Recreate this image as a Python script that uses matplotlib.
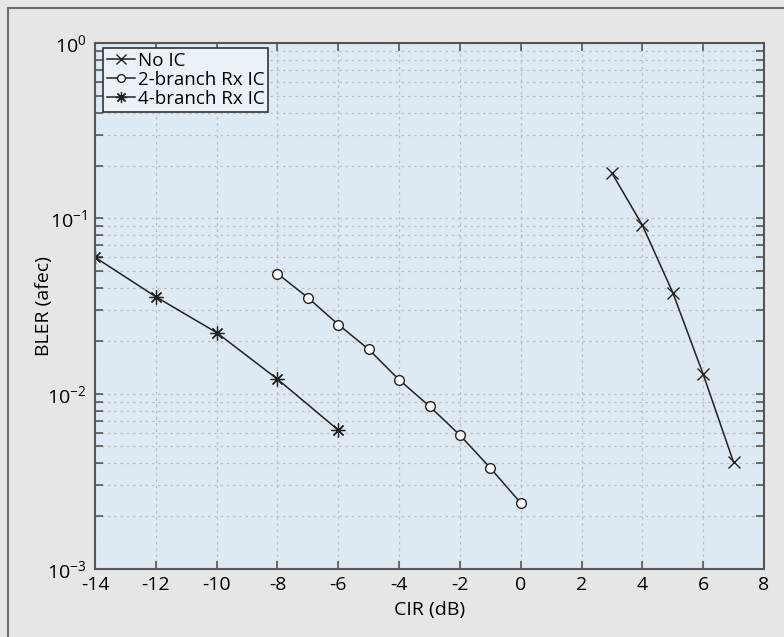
import matplotlib
matplotlib.use('Agg')
import matplotlib.pyplot as plt
from matplotlib.patches import Rectangle
from matplotlib.ticker import LogLocator, LogFormatterMathtext, NullFormatter
import numpy as np

plt.rcParams['font.family'] = ['Open Sans', 'DejaVu Sans']
plt.rcParams['mathtext.default'] = 'regular'
plt.rcParams['axes.unicode_minus'] = False

# data
cir_noic = [3, 4, 5, 6, 7]
bler_noic = [0.181, 0.0914, 0.0377, 0.0129, 0.00406]

cir_2br = [-8, -7, -6, -5, -4, -3, -2, -1, 0]
bler_2br = [0.0484, 0.0353, 0.0248, 0.0179, 0.0120, 0.00848, 0.00580, 0.00377, 0.00238]

cir_4br = [-14, -12, -10, -8, -6]
bler_4br = [0.060, 0.0357, 0.0223, 0.0121, 0.0062]

labels = ['No IC', '2-branch Rx IC', '4-branch Rx IC']
xticks = np.arange(-14, 9, 2)

fig = plt.figure(figsize=(7.84, 6.37), dpi=100)
fig.patch.set_facecolor('#e6e6e6')
# frame line at top/left of the figure panel
fig.add_artist(Rectangle((8/784, -0.1), 1.2, 1 - 8/637 + 0.1, transform=fig.transFigure,
                         facecolor='none', edgecolor='#6e6e6e', linewidth=1.5))

ax = fig.add_axes([95/784, 1 - 569/637, (764 - 95)/784, (569 - 43)/637])
ax.set_facecolor('#dde9f3')

lc = '#222222'
ax.plot(cir_noic, bler_noic, color=lc, lw=1.1, marker='x', ms=9, mew=1.0, label=labels[0])
ax.plot(cir_2br, bler_2br, color=lc, lw=1.1, marker='o', ms=7, mfc='white', mew=1.0, label=labels[1])
ax.plot(cir_4br, bler_4br, color=lc, lw=1.1, marker=(8, 2, 0), ms=10, mew=0.9, label=labels[2])

ax.set_yscale('log')
ax.set_xlim(-14, 8)
ax.set_ylim(1e-3, 1e0)
ax.set_xticks(xticks)
ax.yaxis.set_major_locator(LogLocator(base=10, numticks=10))
ax.yaxis.set_major_formatter(LogFormatterMathtext())
ax.yaxis.set_minor_locator(LogLocator(base=10, subs=np.arange(2, 10), numticks=20))
ax.yaxis.set_minor_formatter(NullFormatter())

ax.tick_params(which='both', direction='in', top=True, right=True, colors='#555555',
               labelcolor='black', labelsize=14)
ax.tick_params(which='major', length=6, width=1.2)
ax.tick_params(which='minor', length=6, width=1.2)
ax.tick_params(axis='x', pad=5)
ax.tick_params(axis='y', pad=6)

ax.grid(True, which='major', axis='both', color='#bdbdbd', linestyle=(0, (2, 3)), linewidth=0.9)
ax.grid(True, which='minor', axis='y', color='#bdbdbd', linestyle=(0, (2, 3)), linewidth=0.9)

for s in ax.spines.values():
    s.set_color('#555555')
    s.set_linewidth(1.5)

ax.set_xlabel('CIR (dB)', fontsize=14, labelpad=5)
ax.set_ylabel('BLER (afec)', fontsize=14, labelpad=-4)

leg = ax.legend(loc='upper left', bbox_to_anchor=(0.012, 0.99), fontsize=13.5, handlelength=1.5,
                handletextpad=0.15, labelspacing=0.05, borderpad=0.2, borderaxespad=0,
                fancybox=False, framealpha=1, edgecolor='#333333', facecolor='#eaf2f8',
                markerscale=0.8)
leg.get_frame().set_linewidth(1.2)

plt.savefig('out.png', dpi=100, facecolor=fig.get_facecolor())
